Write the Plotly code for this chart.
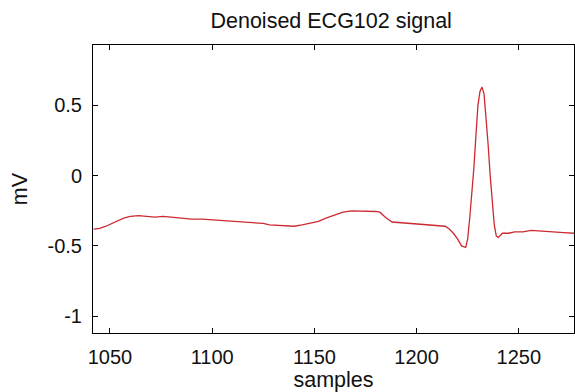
import plotly.graph_objects as go

samples = [1042, 1045, 1048, 1051, 1054, 1057, 1060, 1064, 1068, 1072, 1076, 1080,
           1085, 1090, 1095, 1100, 1105, 1110, 1115, 1120, 1125, 1128, 1132, 1136,
           1140, 1144, 1148, 1152, 1156, 1160, 1164, 1168, 1172, 1176, 1180, 1182,
           1185, 1188, 1192, 1196, 1200, 1205, 1210, 1214, 1216, 1218, 1220, 1222,
           1224, 1225, 1226, 1227, 1228, 1229, 1230, 1231, 1232, 1233, 1234, 1235,
           1236, 1237, 1238, 1239, 1240, 1242, 1245, 1248, 1252, 1256, 1260, 1264,
           1268, 1272, 1277]
mv = [-0.38, -0.375, -0.36, -0.34, -0.32, -0.30, -0.29, -0.285, -0.29, -0.295, -0.29, -0.295,
      -0.30, -0.31, -0.31, -0.315, -0.32, -0.325, -0.335, -0.335, -0.34, -0.35, -0.355, -0.355,
      -0.36, -0.35, -0.34, -0.325, -0.30, -0.28, -0.26, -0.25, -0.25, -0.255, -0.255, -0.26,
      -0.30, -0.33, -0.335, -0.34, -0.345, -0.35, -0.355, -0.36, -0.38, -0.41, -0.45, -0.50,
      -0.51, -0.45, -0.30, -0.15, 0.05, 0.28, 0.50, 0.60, 0.63, 0.58, 0.42, 0.22,
      0.00, -0.20, -0.35, -0.43, -0.44, -0.41, -0.41, -0.40, -0.40, -0.39, -0.395, -0.40,
      -0.40, -0.405, -0.41]

x_ticks = [1050, 1100, 1150, 1200, 1250]
x_tick_labels = ["1050", "1100", "1150", "1200", "1250"]
y_ticks = [-1, -0.5, 0, 0.5]
y_tick_labels = ["-1", "-0.5", "0", "0.5"]

font = "Liberation Sans, Arial, sans-serif"

fig = go.Figure()
fig.add_trace(go.Scatter(x=samples, y=mv, mode="lines",
                         line=dict(color="#cc2a30", width=1.3),
                         showlegend=False, hoverinfo="skip"))

axis_common = dict(showline=True, linecolor="black", linewidth=1, mirror="ticks",
                   ticks="inside", ticklen=5, tickcolor="black", tickwidth=1,
                   showgrid=False, zeroline=False,
                   tickfont=dict(family=font, size=20, color="#111111"))

fig.update_layout(
    width=575, height=392,
    margin=dict(l=93, r=1, t=45, b=59),
    paper_bgcolor="white", plot_bgcolor="white",
    title=dict(text="Denoised ECG102 signal", x=0.576, xanchor="center",
               y=0.949, yanchor="middle",
               font=dict(family=font, size=21.5, color="#111111")),
    xaxis=dict(range=[1041.7, 1277], tickvals=x_ticks, ticktext=x_tick_labels,
               title=dict(text="samples", standoff=4,
                          font=dict(family=font, size=21.5, color="#111111")),
               ticklabelstandoff=6, **axis_common),
    yaxis=dict(range=[-1.12, 0.93], tickvals=y_ticks, ticktext=y_tick_labels,
               title=dict(text="mV", standoff=14,
                          font=dict(family=font, size=21.5, color="#111111")),
               ticklabelstandoff=6, **axis_common),
)

fig.write_html("out.html")
